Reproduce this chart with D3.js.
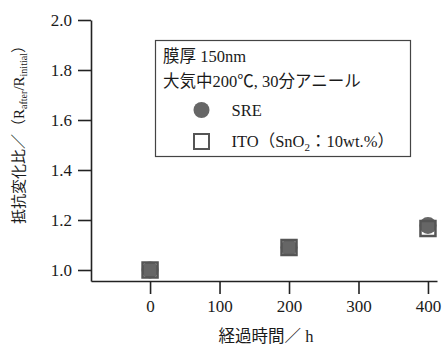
<!DOCTYPE html>
<html><head><meta charset="utf-8">
<script src="https://cdn.jsdelivr.net/npm/d3@7"></script>
<style>
body{margin:0;background:#fff;}
text{font-family:"Liberation Serif","Noto Sans CJK JP",serif;fill:#1a1a1a;}
</style></head>
<body><svg id="c" width="444" height="347"></svg>
<script>
const hours = [0, 200, 400];
const sre = [1.0, 1.09, 1.178];
const ito = [1.0, 1.09, 1.166];
const xTicks = [0, 100, 200, 300, 400];
const yTicks = [1.0, 1.2, 1.4, 1.6, 1.8, 2.0];
const legendLines = ["膜厚 150nm", "大気中200℃, 30分アニール"];
const seriesNames = ["SRE", "ITO"];

const svg = d3.select("#c");
const x = d3.scaleLinear().domain([-85, 413]).range([91, 437]);
const y = d3.scaleLinear().domain([0.956, 2.0]).range([281, 20]);

const fs = 16;
const xAxis = svg.append("g").attr("transform", `translate(0,${y(0.956)})`)
  .call(d3.axisBottom(x).tickValues(xTicks).tickSize(13).tickPadding(6).tickSizeOuter(0));
const yAxis = svg.append("g").attr("transform", `translate(${x(-85)},0)`)
  .call(d3.axisLeft(y).tickValues(yTicks).tickSize(13).tickPadding(6).tickFormat(d3.format(".1f")).tickSizeOuter(0));
[xAxis, yAxis].forEach(g => {
  g.select(".domain").attr("stroke", "#222").attr("stroke-width", 1.6);
  g.selectAll(".tick line").attr("stroke", "#222").attr("stroke-width", 1.6);
  g.selectAll(".tick text").attr("font-size", 17).attr("fill", "#1a1a1a")
    .attr("font-family", "Liberation Serif, serif");
});

const mk = svg.append("g");
mk.selectAll("circle.s").data(hours).join("circle")
  .attr("cx", (d) => x(d)).attr("cy", (d, i) => y(sre[i])).attr("r", 8.5)
  .attr("fill", "#666");
mk.selectAll("rect.i").data(hours).join("rect")
  .attr("x", (d) => x(d) - 7.5).attr("y", (d, i) => y(ito[i]) - 7.5)
  .attr("width", 15).attr("height", 15)
  .attr("fill", "none").attr("stroke", "#555").attr("stroke-width", 2.5);

const lg = svg.append("g");
lg.append("rect").attr("x", 155.5).attr("y", 40.5).attr("width", 255).attr("height", 116)
  .attr("fill", "#fff").attr("stroke", "#444").attr("stroke-width", 1.2);
lg.selectAll("text.l").data(legendLines).join("text")
  .attr("x", 163).attr("y", (d, i) => 62 + i * 25).attr("font-size", 16.5).text(d => d);
lg.append("circle").attr("cx", 201.5).attr("cy", 110).attr("r", 8).attr("fill", "#666");
lg.append("rect").attr("x", 194).attr("y", 134).attr("width", 15).attr("height", 15)
  .attr("fill", "#fff").attr("stroke", "#555").attr("stroke-width", 2);
lg.append("text").attr("x", 231.5).attr("y", 116).attr("font-size", 16.5).text(seriesNames[0]);
const t2 = lg.append("text").attr("x", 231.5).attr("y", 147).attr("font-size", 16.5);
t2.append("tspan").text(seriesNames[1] + "（SnO");
t2.append("tspan").attr("font-size", 11).attr("dy", 4).text("2");
t2.append("tspan").attr("dy", -4).text("：10wt.%）");

svg.append("text").attr("x", 266).attr("y", 342).attr("text-anchor", "middle")
  .attr("font-size", 16.5).text("経過時間／ h");
const yt = svg.append("text").attr("transform", "translate(24,131) rotate(-90)")
  .attr("text-anchor", "middle").attr("font-size", 15);
yt.append("tspan").text("抵抗変化比／（R");
yt.append("tspan").attr("font-size", 10).attr("dy", 3).text("after");
yt.append("tspan").attr("dy", -3).text("/R");
yt.append("tspan").attr("font-size", 10).attr("dy", 3).text("initial");
yt.append("tspan").attr("dy", -3).text("）");
</script></body></html>
